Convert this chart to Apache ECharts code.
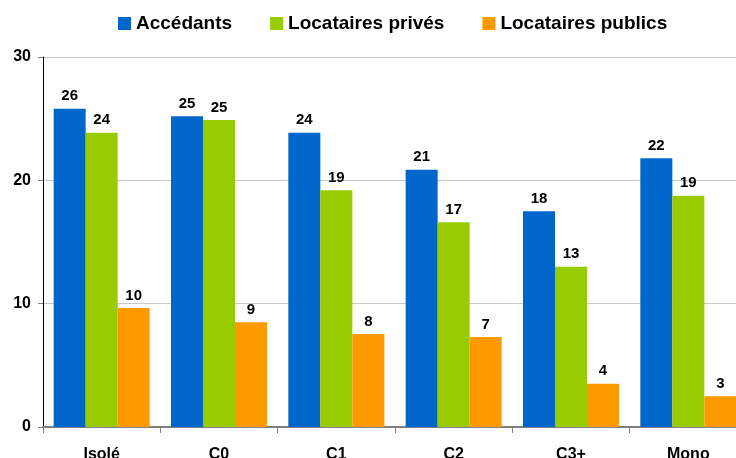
<!DOCTYPE html>
<html>
<head>
<meta charset="utf-8">
<script src="https://cdn.jsdelivr.net/npm/echarts@6/dist/echarts.min.js"></script>
<style>
html,body{margin:0;padding:0;background:#fff;}
#chart{width:736px;height:458px;}
</style>
</head>
<body>
<div id="chart"></div>
<script>
var categories = ['Isolé', 'C0', 'C1', 'C2', 'C3+', 'Mono'];
var seriesNames = ['Accédants', 'Locataires privés', 'Locataires publics'];
var accedants = [25.8, 25.2, 23.85, 20.85, 17.5, 21.8];
var locPrives = [23.85, 24.9, 19.2, 16.6, 13.0, 18.75];
var locPublics = [9.65, 8.5, 7.55, 7.3, 3.5, 2.5];
var yTicks = [0, 10, 20, 30];
var colors = ['#0066CC', '#99CC00', '#FF9900'];

var FONT = '"Liberation Sans", Arial, sans-serif';
var chart = echarts.init(document.getElementById('chart'), null, {renderer: 'canvas'});

function mk(name, data, color) {
  return {
    name: name,
    type: 'bar',
    data: data,
    barWidth: 32,
    barGap: '0%',
    itemStyle: {color: color},
    label: {
      show: true,
      position: 'top',
      distance: 5,
      fontFamily: FONT,
      fontWeight: 'bold',
      fontSize: 15,
      color: '#000',
      formatter: function (p) { return Math.round(p.value); }
    }
  };
}

chart.setOption({
  animation: false,
  backgroundColor: '#fff',
  textStyle: {fontFamily: FONT},
  legend: {
    top: 9,
    left: 113,
    itemWidth: 13,
    itemHeight: 13,
    itemGap: 38,
    icon: 'rect',
    textStyle: {fontFamily: FONT, fontWeight: 'bold', fontSize: 19, color: '#000'},
    data: seriesNames
  },
  grid: {left: 43, top: 57, width: 704, bottom: 31, containLabel: false, outerBoundsMode: 'none'},
  xAxis: {
    type: 'category',
    data: categories,
    axisLine: {lineStyle: {color: '#808080', width: 2}},
    axisTick: {show: true, length: 6, lineStyle: {color: '#808080'}},
    axisLabel: {fontFamily: FONT, fontWeight: 'bold', fontSize: 16, color: '#000', margin: 20}
  },
  yAxis: {
    type: 'value',
    min: yTicks[0],
    max: yTicks[yTicks.length - 1],
    interval: 10,
    axisLine: {show: true, lineStyle: {color: '#000', width: 1}},
    axisTick: {show: true, length: 5, lineStyle: {color: '#808080'}},
    axisLabel: {fontFamily: FONT, fontWeight: 'bold', fontSize: 16, color: '#000', margin: 12},
    splitLine: {lineStyle: {color: '#C8C8C8', width: 1}}
  },
  series: [
    mk(seriesNames[0], accedants, colors[0]),
    mk(seriesNames[1], locPrives, colors[1]),
    mk(seriesNames[2], locPublics, colors[2])
  ]
});
</script>
</body>
</html>
